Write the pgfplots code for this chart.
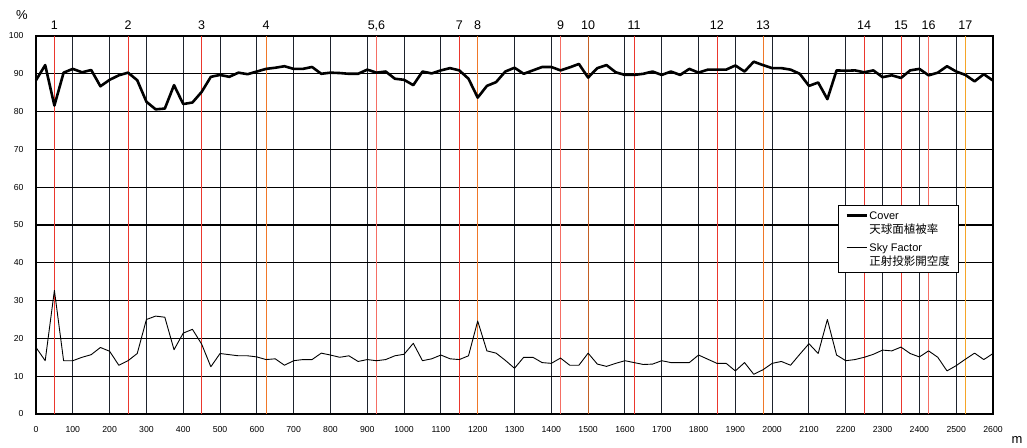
\documentclass[border=0pt]{standalone}
\usepackage{fontspec}
\setmainfont{Liberation Sans}
\newfontfamily\cjk{Noto Sans CJK JP}
\usepackage{pgfplots}
\pgfplotsset{compat=1.18}
\usepackage{pgfplotstable}

\pgfplotstableread{
x cover sky
0 88.3 17.6
25 92.3 14.1
50 81.6 32.7
75 90.3 14.1
100 91.3 14.1
125 90.4 15.0
150 91.0 15.7
175 86.7 17.6
200 88.4 16.6
225 89.6 12.9
250 90.3 14.1
275 88.3 16.0
300 82.6 25.0
325 80.6 25.9
350 80.8 25.6
375 87.0 17.0
400 82.0 21.4
425 82.4 22.4
450 85.2 18.5
475 89.2 12.5
500 89.7 16.0
525 89.2 15.7
550 90.3 15.4
575 89.9 15.4
600 90.6 15.1
625 91.3 14.4
650 91.6 14.6
675 92.0 12.9
700 91.3 14.1
725 91.3 14.4
750 91.8 14.4
775 90.0 16.1
800 90.3 15.6
825 90.2 15.0
850 90.0 15.4
875 90.0 13.9
900 91.1 14.4
925 90.3 14.1
950 90.6 14.4
975 88.7 15.4
1000 88.4 15.8
1025 87.0 18.7
1050 90.6 14.1
1075 90.1 14.6
1100 90.9 15.6
1125 91.5 14.6
1150 90.9 14.4
1175 88.7 15.4
1200 83.7 24.6
1225 86.8 16.7
1250 87.8 16.1
1275 90.6 14.2
1300 91.6 12.1
1325 90.0 15.0
1350 90.9 15.0
1375 91.8 13.6
1400 91.8 13.4
1425 90.9 14.8
1450 91.7 12.9
1475 92.6 12.9
1500 89.0 16.1
1525 91.5 13.2
1550 92.3 12.6
1575 90.4 13.4
1600 89.7 14.1
1625 89.7 13.6
1650 90.0 13.1
1675 90.6 13.2
1700 89.7 14.1
1725 90.6 13.6
1750 89.7 13.6
1775 91.3 13.6
1800 90.3 15.6
1825 91.1 14.5
1850 91.1 13.4
1875 91.1 13.4
1900 92.2 11.4
1925 90.6 13.6
1950 93.2 10.5
1975 92.3 11.7
2000 91.5 13.4
2025 91.5 13.9
2050 91.1 12.9
2075 90.0 15.8
2100 86.8 18.6
2125 87.7 16.0
2150 83.3 25.0
2175 90.9 15.6
2200 90.8 14.1
2225 90.9 14.4
2250 90.4 15.0
2275 90.9 15.8
2300 89.1 16.9
2325 89.6 16.7
2350 88.9 17.7
2375 90.9 16.0
2400 91.3 15.1
2425 89.6 16.7
2450 90.3 15.0
2475 92.0 11.4
2500 90.6 12.8
2525 89.7 14.5
2550 88.0 16.1
2575 89.9 14.4
2600 88.2 16.0
}\datatable

\definecolor{mred}{RGB}{235,55,45}
\definecolor{morange}{RGB}{240,120,40}
\definecolor{mbrown}{RGB}{195,95,35}
\definecolor{msalmon}{RGB}{245,110,100}
\definecolor{myellow}{RGB}{245,165,40}
\definecolor{gridc}{RGB}{30,35,45}

\begin{document}
\begin{tikzpicture}
\path[use as bounding box] (-36pt,-33pt) rectangle (991pt,414pt);
\begin{axis}[
  width=957pt, height=378pt, scale only axis,
  xmin=0, xmax=2600, ymin=0, ymax=100,
  xtick distance=100, ytick distance=10,
  grid=major,
  x grid style={line width=1pt, gridc},
  y grid style={line width=1.2pt, black},
  major tick length=0pt,
  axis line style={line width=1.4pt, black},
  tick label style={font=\fontsize{8.7}{10}\selectfont},
  yticklabel style={xshift=-9pt},
  xticklabel style={yshift=-9pt},
  /pgf/number format/assume math mode=true,
  /pgf/number format/1000 sep={},
  clip=false,
  legend style={at={(axis description cs:0.838,0.553)}, anchor=north west,
    draw=black, line width=0.8pt, fill=white,
    font=\fontsize{11}{12}\selectfont,
    inner xsep=7pt, inner ysep=4pt, row sep=0pt,
    nodes={inner sep=1.5pt},
    cells={anchor=base west}},
  legend image code/.code={\draw[#1] (0pt,3.8pt) -- (20pt,3.8pt);},
]
\addplot[forget plot, mred, line width=0.9pt] coordinates {(50,0)(50,100)};
\addplot[forget plot, mred, line width=0.9pt] coordinates {(250,0)(250,100)};
\addplot[forget plot, mred, line width=0.9pt] coordinates {(450,0)(450,100)};
\addplot[forget plot, morange, line width=0.9pt] coordinates {(625,0)(625,100)};
\addplot[forget plot, msalmon, line width=0.9pt] coordinates {(925,0)(925,100)};
\addplot[forget plot, mred, line width=0.9pt] coordinates {(1150,0)(1150,100)};
\addplot[forget plot, morange, line width=0.9pt] coordinates {(1200,0)(1200,100)};
\addplot[forget plot, msalmon, line width=0.9pt] coordinates {(1425,0)(1425,100)};
\addplot[forget plot, mbrown, line width=0.9pt] coordinates {(1500,0)(1500,100)};
\addplot[forget plot, mred, line width=0.9pt] coordinates {(1625,0)(1625,100)};
\addplot[forget plot, mred, line width=0.9pt] coordinates {(1850,0)(1850,100)};
\addplot[forget plot, morange, line width=0.9pt] coordinates {(1975,0)(1975,100)};
\addplot[forget plot, mred, line width=0.9pt] coordinates {(2250,0)(2250,100)};
\addplot[forget plot, mred, line width=0.9pt] coordinates {(2350,0)(2350,100)};
\addplot[forget plot, msalmon, line width=0.9pt] coordinates {(2425,0)(2425,100)};
\addplot[forget plot, myellow, line width=0.9pt] coordinates {(2525,0)(2525,100)};

\addplot[black, line width=2.6pt, line join=round] table[x=x, y=cover] {\datatable};
\addlegendentry{\strut Cover}
\addlegendimage{empty legend}
\addlegendentry{\strut{\cjk\fontsize{11.5}{13}\selectfont 天球面植被率}}
\addplot[black, line width=0.9pt, line join=round] table[x=x, y=sky] {\datatable};
\addlegendentry{\rule{0pt}{13.4pt}Sky Factor}
\addlegendimage{empty legend}
\addlegendentry{\strut{\cjk\fontsize{11.5}{13}\selectfont 正射投影開空度}}

\foreach \xx/\lab in {50/1, 250/2, 450/3, 625/4, 925/{5,6}, 1150/7, 1200/8, 1425/9, 1500/10, 1625/11, 1850/12, 1975/13, 2250/14, 2350/15, 2425/16, 2525/17} {
  \edef\temp{\noexpand\node[anchor=base, yshift=6.5pt, font=\noexpand\fontsize{12.5}{14}\noexpand\selectfont] at (axis cs:\xx,100) {\lab};}
  \temp
}
\node[font=\fontsize{13}{15}\selectfont] at (axis description cs:-0.0146,1.0556) {\%};
\node[font=\fontsize{13}{15}\selectfont] at (axis description cs:1.025,-0.069) {m};
\end{axis}
\end{tikzpicture}
\end{document}
